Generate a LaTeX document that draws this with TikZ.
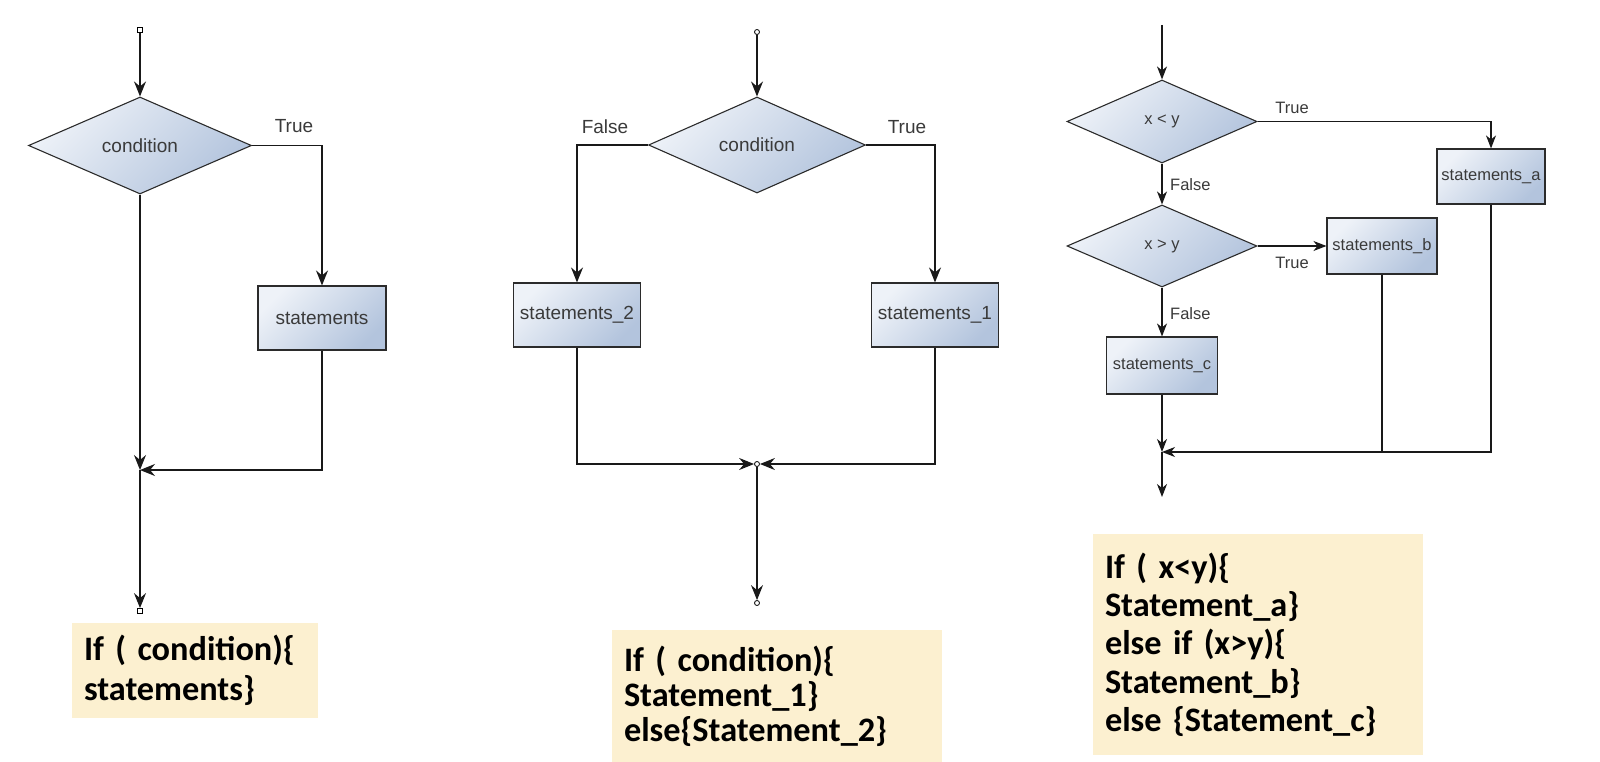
\documentclass[tikz,border=0pt]{standalone}
\usepackage{fontspec}
\usetikzlibrary{shapes.geometric, arrows.meta}
\newfontfamily\labfont{Liberation Sans}
\newfontfamily\codefont{Carlito}
\definecolor{codeyellow}{HTML}{FCF0D0}
\definecolor{shadelight}{HTML}{EEF2F8}
\definecolor{shadedark}{HTML}{B3C4DD}
\definecolor{labgray}{HTML}{3A3A3A}
\definecolor{edgegray}{HTML}{2B2B2B}
\begin{document}
\begin{tikzpicture}[x=1pt,y=-1pt,
  conn/.style={draw=black!90, line width=1.3pt},
  arr/.style={conn, -{Stealth[length=15pt,width=12pt,inset=5pt]}},
  arrsm/.style={conn, -{Stealth[length=13pt,width=10pt,inset=4pt]}},
  shadedshape/.style={draw=edgegray, line width=1.1pt, top color=shadelight, bottom color=shadedark, shading angle=45, inner sep=0pt, text=labgray},
  decision/.style={diamond, shadedshape},
  process/.style={rectangle, shadedshape},
  biglab/.style={font=\labfont\fontsize{19}{23}\selectfont},
  smalllab/.style={font=\labfont\fontsize{16.5}{20}\selectfont},
  lbl/.style={text=labgray, inner sep=0pt},
  codebox/.style={fill=codeyellow, align=left, inner xsep=12pt, inner ysep=0pt, text=black, font=\codefont\bfseries\fontsize{34.3}{#1}\selectfont},
  termsq/.style={draw=black, line width=0.8pt, fill=white, minimum size=5pt, inner sep=0pt},
  termc/.style={circle, draw=black, line width=0.8pt, fill=white, minimum size=5pt, inner sep=0pt},
]
\useasboundingbox (0,0) rectangle (1600,762);

% ---------- Diagram 1 ----------
\node[termsq] (s1) at (140,30) {};
\node[decision, biglab, minimum width=223pt, minimum height=97pt] (d1) at (140,145.5) {condition};
\node[process, biglab, minimum width=128pt, minimum height=64pt] (p1) at (322,318) {statements};
\coordinate (j1) at (140,470);
\node[termsq] (e1) at (140,611) {};
\node[lbl, biglab] (t1) at (294,126) {True};
\draw[arr] (s1) -- (d1.north);
\draw[arr] (d1.east) -| (p1.north);
\draw[arr] (d1.south) -- (j1);
\draw[arr] (p1.south) |- (j1);
\draw[arr] (j1) -- (e1.north);

% ---------- Diagram 2 ----------
\node[termc] (s2) at (757,32) {};
\node[decision, biglab, minimum width=217pt, minimum height=96pt] (d2) at (757,145) {condition};
\node[process, biglab, minimum width=127pt, minimum height=64pt] (p2a) at (577,315) {statements\_2};
\node[process, biglab, minimum width=127pt, minimum height=64pt] (p2b) at (935,315) {statements\_1};
\node[termc] (j2) at (757,464) {};
\node[termc] (e2) at (757,603) {};
\node[lbl, biglab] (f2) at (605,127) {False};
\node[lbl, biglab] (t2) at (907,127) {True};
\draw[arr] (s2) -- (d2.north);
\draw[arr] (d2.west) -| (p2a.north);
\draw[arr] (d2.east) -| (p2b.north);
\draw[arr] (p2a.south) |- (j2);
\draw[arr] (p2b.south) |- (j2);
\draw[arr] (j2) -- (e2);

% ---------- Diagram 3 ----------
\coordinate (s3) at (1162,25);
\node[decision, smalllab, minimum width=190pt, minimum height=83pt] (d3a) at (1162,121.5) {x < y};
\node[decision, smalllab, minimum width=190pt, minimum height=82pt] (d3b) at (1162,246) {x > y};
\node[process, smalllab, minimum width=108pt, minimum height=55pt] (p3a) at (1491,176.5) {statements\_a};
\node[process, smalllab, minimum width=110pt, minimum height=56pt] (p3b) at (1382,246) {statements\_b};
\node[process, smalllab, minimum width=111pt, minimum height=57pt] (p3c) at (1162,365.5) {statements\_c};
\coordinate (j3) at (1162,452);
\coordinate (e3) at (1162,497);
\node[lbl, smalllab] (t3a) at (1292,108) {True};
\node[lbl, smalllab, anchor=west] (f3a) at (1170,185) {False};
\node[lbl, smalllab] (t3b) at (1292,263) {True};
\node[lbl, smalllab, anchor=west] (f3b) at (1170,314) {False};
\draw[arrsm] (s3) -- (d3a.north);
\draw[arrsm] (d3a.east) -| (p3a.north);
\draw[arrsm] (d3a.south) -- (d3b.north);
\draw[arrsm] (d3b.east) -- (p3b.west);
\draw[arrsm] (d3b.south) -- (p3c.north);
\draw[arrsm] (p3c.south) -- (j3);
\draw[arrsm] (p3a.south) |- (j3);
\draw[conn] (p3b.south) -- (p3b.south |- j3);
\draw[arrsm] (j3) -- (e3);

% ---------- Code boxes ----------
\node[codebox=40, text width=222pt, minimum height=95pt] (c1) at (195,670.5) {If ( condition)\{\\statements\}};
\node[codebox=35, text width=306pt, minimum height=132pt] (c2) at (777,696) {If ( condition)\{\\Statement\_1\}\\else\{Statement\_2\}};
\node[codebox=38.3, text width=306pt, minimum height=221pt] (c3) at (1258,644.5) {If ( x<y)\{\\Statement\_a\}\\else if (x>y)\{\\Statement\_b\}\\else \{Statement\_c\}};
\end{tikzpicture}
\end{document}
